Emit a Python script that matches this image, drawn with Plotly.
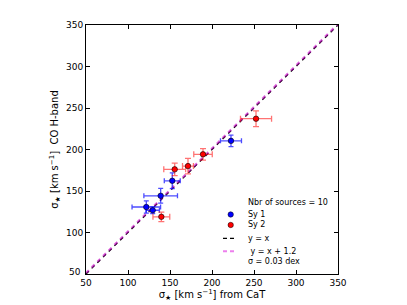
import plotly.graph_objects as go

# ---- data ----
sy1_x = [152.7, 138.9, 121.8, 129.4, 222.6]
sy1_y = [162.3, 144.2, 130.7, 126.8, 210.4]
sy1_xerr = [9.5, 20.0, 17.0, 8.0, 12.5]
sy1_yerr = [9.5, 8.9, 7.3, 4.0, 7.0]

sy2_x = [139.7, 155.6, 171.4, 189.3, 252.4]
sy2_y = [118.9, 176.1, 180.0, 194.2, 237.1]
sy2_xerr = [10.0, 13.0, 6.5, 11.0, 18.5]
sy2_yerr = [5.7, 7.5, 9.3, 6.9, 9.5]

line_x = [50, 350]
offset = 1.2
line_y1 = [v for v in line_x]
line_y2 = [v + offset for v in line_x]

ticks = [50, 100, 150, 200, 250, 300, 350]

legend_labels = ["Nbr of sources = 10", "Sy 1", "Sy 2", "y = x",
                 "\u00a0y = x + 1.2", "\u03c3 = 0.03 dex"]

FONT = "DejaVu Sans"

fig = go.Figure()

fig.add_trace(go.Scatter(x=line_x, y=line_y1, mode="lines",
                         line=dict(color="black", width=1.3, dash="4px,4px"),
                         showlegend=False, hoverinfo="skip"))
fig.add_trace(go.Scatter(x=line_x, y=line_y2, mode="lines",
                         line=dict(color="rgba(200,0,200,0.6)", width=2.2, dash="4px,4px"),
                         showlegend=False, hoverinfo="skip"))

fig.add_trace(go.Scatter(
    x=sy1_x, y=sy1_y, mode="markers",
    marker=dict(color="#0000ff", size=5.5, line=dict(color="black", width=0.6)),
    error_x=dict(type="data", array=sy1_xerr, color="rgba(0,0,255,0.7)", thickness=1.3, width=2.5),
    error_y=dict(type="data", array=sy1_yerr, color="rgba(0,0,255,0.7)", thickness=1.3, width=2.5),
    showlegend=False))
fig.add_trace(go.Scatter(
    x=sy2_x, y=sy2_y, mode="markers",
    marker=dict(color="#ff0000", size=5.5, line=dict(color="black", width=0.6)),
    error_x=dict(type="data", array=sy2_xerr, color="rgba(255,0,0,0.55)", thickness=1.3, width=3),
    error_y=dict(type="data", array=sy2_yerr, color="rgba(255,0,0,0.55)", thickness=1.3, width=3),
    showlegend=False))

# ---- manual legend (text + glyphs) in paper coordinates ----
L, R, T, B = 78, 77, 12, 39
W, H = 407 - L - R, 305 - T - B
def px(xp):
    return (xp - L) / W
def py(yp):
    return (305 - B - yp) / H

rows_y = [192.7, 205.3, 216.0, 229.7, 242.7, 253.0]
annotations = []
for lab, yy in zip(legend_labels, rows_y):
    annotations.append(dict(xref="paper", yref="paper", x=px(238), y=py(yy),
                            text=lab, showarrow=False, xanchor="left", yanchor="middle",
                            font=dict(family=FONT, size=8, color="black")))
shapes = []
for col, yy in [("#0000ff", rows_y[1]), ("#ff0000", rows_y[2])]:
    shapes.append(dict(type="circle", xref="paper", yref="paper",
                       xsizemode="pixel", ysizemode="pixel",
                       xanchor=px(222.7), yanchor=py(yy),
                       x0=-2.7, x1=2.7, y0=-2.7, y1=2.7,
                       fillcolor=col, line=dict(color="black", width=0.5)))
shapes.append(dict(type="line", xref="paper", yref="paper",
                   x0=px(215), x1=px(229), y0=py(rows_y[3]), y1=py(rows_y[3]),
                   line=dict(color="black", width=1.2, dash="4px,3px")))
shapes.append(dict(type="line", xref="paper", yref="paper",
                   x0=px(215), x1=px(229), y0=py(rows_y[4]), y1=py(rows_y[4]),
                   line=dict(color="rgba(220,0,220,0.5)", width=2, dash="4px,3px")))

# y-axis '50' label sits slightly raised in the reference
annotations.append(dict(xref="paper", yref="y", x=0, y=ticks[0], text=str(ticks[0]),
                        showarrow=False, xanchor="right", yanchor="bottom",
                        xshift=-3, yshift=-5, font=dict(family=FONT, size=9, color="black")))

axis_common = dict(showline=True, linecolor="black", linewidth=1, mirror="ticks",
                   ticks="inside", ticklen=4, tickwidth=0.8, tickcolor="black",
                   showgrid=False, zeroline=False,
                   tickfont=dict(family=FONT, size=9, color="black"))

fig.update_layout(
    width=407, height=305,
    margin=dict(l=L, r=R, t=T, b=B, pad=0),
    paper_bgcolor="white", plot_bgcolor="white",
    showlegend=False,
    font=dict(family=FONT, color="black"),
    xaxis=dict(range=[50, 350], tickvals=ticks, ticktext=[str(t) for t in ticks],
               title=dict(text="\u03c3<sub>\u2605</sub> [km s<sup>\u22121</sup>] from CaT",
                          font=dict(family=FONT, size=10), standoff=3),
               **axis_common),
    yaxis=dict(range=[50, 350], tickvals=ticks[1:], ticktext=[str(t) for t in ticks[1:]],
               title=dict(text="\u03c3<sub>\u2605</sub> [km s<sup>\u22121</sup>]  CO H-band",
                          font=dict(family=FONT, size=10), standoff=5),
               **axis_common),
    annotations=annotations,
    shapes=shapes,
)

fig.write_html("out.html")
